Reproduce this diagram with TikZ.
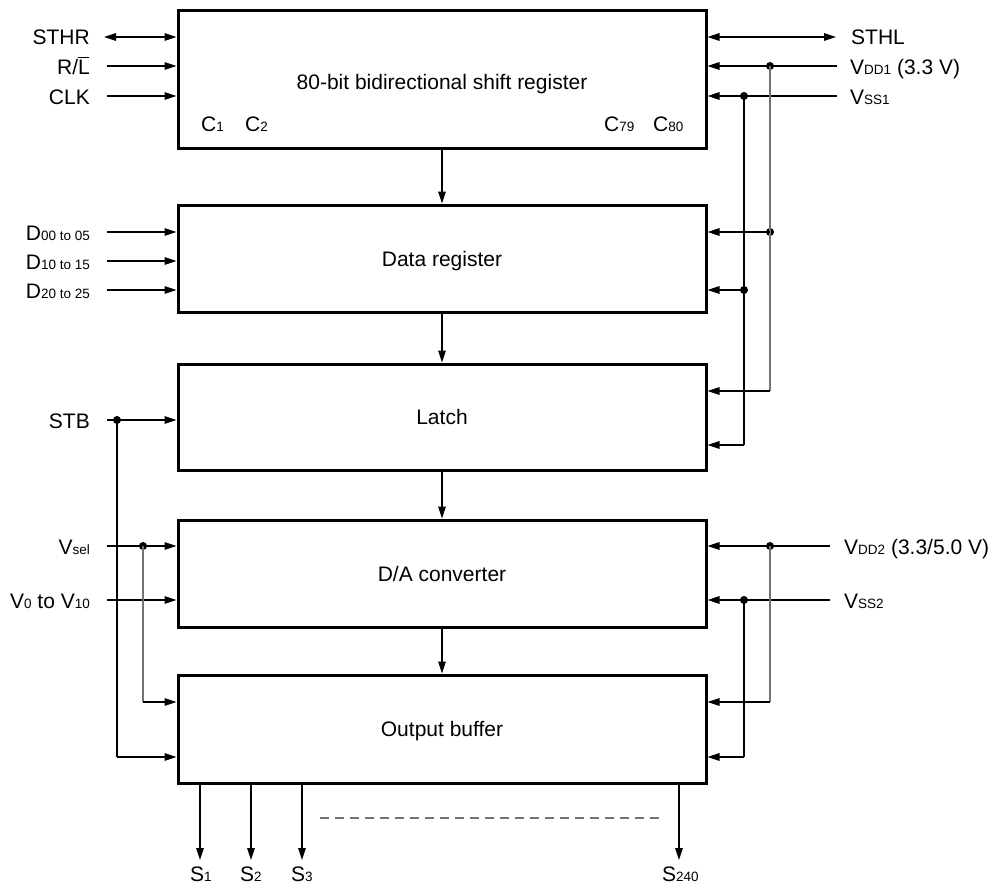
\documentclass[tikz,border=0pt]{standalone}
\usepackage{fontspec}
\setmainfont{Liberation Sans}
\usetikzlibrary{arrows.meta}
\newcommand\lo[1]{{\fontsize{13.5}{13.5}\selectfont #1}}
\newcommand\ovL{\makebox[0pt][l]{\raisebox{16.5pt}{\rule{11pt}{1pt}}}L}
\begin{document}
\begin{tikzpicture}[x=1pt,y=-1pt,
  font=\fontsize{21}{25}\selectfont,
  blk/.style={draw,line width=3pt,minimum width=528pt,inner sep=0pt},
  sig/.style={line width=1.3pt,-{Triangle[length=12pt,width=7.5pt]}},
  bsig/.style={line width=1.3pt,{Triangle[length=12pt,width=7.5pt]}-{Triangle[length=12pt,width=7.5pt]}},
  wire/.style={line width=1.3pt},
  gwire/.style={line width=1.3pt,draw=black!55},
  dot/.style={circle,fill,inner sep=0pt,minimum size=8pt},
  lbl/.style={anchor=base east,inner sep=0pt},
  rbl/.style={anchor=base west,inner sep=0pt},
  ctr/.style={anchor=base,inner sep=0pt}]
\useasboundingbox (0,0) rectangle (1000,884);
% blocks
\node[blk,minimum height=138pt] (b1) at (442,79) {};
\node[ctr] (t1) at (442,89) {80-bit bidirectional shift register};
\node[blk,minimum height=107pt] (b2) at (442,258.5) {};
\node[ctr] (t2) at (442,266) {Data register};
\node[blk,minimum height=106pt] (b3) at (442,417) {};
\node[ctr] (t3) at (442,424) {Latch};
\node[blk,minimum height=107pt] (b4) at (442,573.5) {};
\node[ctr] (t4) at (442,581) {D/A converter};
\node[blk,minimum height=108pt] (b5) at (442,729) {};
\node[ctr] (t5) at (442,736) {Output buffer};
\node[rbl] (c1) at (201,131) {C\lo{1}};
\node[rbl] (c2) at (245,131) {C\lo{2}};
\node[rbl] (c79) at (604,131) {C\lo{79}};
\node[rbl] (c80) at (653,131) {C\lo{80}};
% vertical flow
\draw[sig] (b1.south) -- (b2.north);
\draw[sig] (b2.south) -- (b3.north);
\draw[sig] (b3.south) -- (b4.north);
\draw[sig] (b4.south) -- (b5.north);
% left labels
\node[lbl] (lsthr) at (90,44) {STHR};
\node[lbl] (lrl) at (90,74) {R/\ovL};
\node[lbl] (lclk) at (90,104) {CLK};
\node[lbl] (ld0) at (90,240) {D\lo{00 to 05}};
\node[lbl] (ld1) at (90,269) {D\lo{10 to 15}};
\node[lbl] (ld2) at (90,298) {D\lo{20 to 25}};
\node[lbl] (lstb) at (90,428) {STB};
\node[lbl] (lvsel) at (90,554) {V\lo{sel}};
\node[lbl] (lv0) at (90,608) {V\lo{0} to V\lo{10}};
\coordinate (psthr) at (104,37);
\coordinate (prl) at (107,66);
\coordinate (pclk) at (107,96);
\coordinate (pd0) at (107,232);
\coordinate (pd1) at (107,261);
\coordinate (pd2) at (107,290);
\coordinate (pstb) at (107,420);
\coordinate (pvsel) at (107,546);
\coordinate (pv0) at (107,600);
\draw[bsig] (psthr) -- (psthr -| b1.west);
\draw[sig] (prl) -- (prl -| b1.west);
\draw[sig] (pclk) -- (pclk -| b1.west);
\draw[sig] (pd0) -- (pd0 -| b2.west);
\draw[sig] (pd1) -- (pd1 -| b2.west);
\draw[sig] (pd2) -- (pd2 -| b2.west);
\draw[sig] (pstb) -- (pstb -| b3.west);
\draw[sig] (pvsel) -- (pvsel -| b4.west);
\draw[sig] (pv0) -- (pv0 -| b4.west);
\node[dot] (dstb) at (117,420) {};
\node[dot] (dvsel) at (143,546) {};
\coordinate (cstb) at (117,757);
\coordinate (cvsel) at (143,702);
\draw[wire] (dstb.center) -- (cstb);
\draw[sig] (cstb) -- (cstb -| b5.west);
\draw[gwire] (dvsel.center) -- (cvsel);
\draw[sig] (cvsel) -- (cvsel -| b5.west);
% right labels
\node[rbl] (rsthl) at (851,44) {STHL};
\node[rbl] (rvdd1) at (850,74) {V\lo{DD1} (3.3 V)};
\node[rbl] (rvss1) at (850,104) {V\lo{SS1}};
\node[rbl] (rvdd2) at (844,554) {V\lo{DD2} (3.3/5.0 V)};
\node[rbl] (rvss2) at (844,608) {V\lo{SS2}};
\coordinate (psthl) at (836,37);
\coordinate (pvdd1) at (837,66);
\coordinate (pvss1) at (837,96);
\coordinate (pvdd2) at (830,546);
\coordinate (pvss2) at (830,600);
\draw[bsig] (psthl -| b1.east) -- (psthl);
\draw[sig] (pvdd1) -- (pvdd1 -| b1.east);
\draw[sig] (pvss1) -- (pvss1 -| b1.east);
\draw[sig] (pvdd2) -- (pvdd2 -| b4.east);
\draw[sig] (pvss2) -- (pvss2 -| b4.east);
% supply 1 distribution
\node[dot] (dvdd1) at (770,66) {};
\node[dot] (dvss1) at (744,96) {};
\node[dot] (dvdd1b) at (770,232) {};
\node[dot] (dvss1b) at (744,290) {};
\coordinate (cvdd1) at (770,391);
\coordinate (cvss1) at (744,445);
\draw[gwire] (dvdd1.center) -- (cvdd1);
\draw[wire] (dvss1.center) -- (cvss1);
\draw[sig] (dvdd1b.center) -- (dvdd1b -| b2.east);
\draw[sig] (dvss1b.center) -- (dvss1b -| b2.east);
\draw[sig] (cvdd1) -- (cvdd1 -| b3.east);
\draw[sig] (cvss1) -- (cvss1 -| b3.east);
% supply 2 distribution
\node[dot] (dvdd2) at (770,546) {};
\node[dot] (dvss2) at (744,600) {};
\coordinate (cvdd2) at (770,702);
\coordinate (cvss2) at (744,757);
\draw[gwire] (dvdd2.center) -- (cvdd2);
\draw[wire] (dvss2.center) -- (cvss2);
\draw[sig] (cvdd2) -- (cvdd2 -| b5.east);
\draw[sig] (cvss2) -- (cvss2 -| b5.east);
% outputs
\coordinate (s1e) at (200,860);
\coordinate (s2e) at (251,860);
\coordinate (s3e) at (302,860);
\coordinate (s240e) at (679,860);
\draw[sig] (s1e |- b5.south) -- (s1e);
\draw[sig] (s2e |- b5.south) -- (s2e);
\draw[sig] (s3e |- b5.south) -- (s3e);
\draw[sig] (s240e |- b5.south) -- (s240e);
\node[rbl] (ls1) at (190,881) {S\lo{1}};
\node[rbl] (ls2) at (240,881) {S\lo{2}};
\node[rbl] (ls3) at (291,881) {S\lo{3}};
\node[rbl] (ls240) at (662,881) {S\lo{240}};
\coordinate (dash1) at (320,818);
\coordinate (dash2) at (660,818);
\draw[line width=1.2pt,draw=black!55,dash pattern=on 9pt off 6pt] (dash1) -- (dash2);
\end{tikzpicture}
\end{document}
